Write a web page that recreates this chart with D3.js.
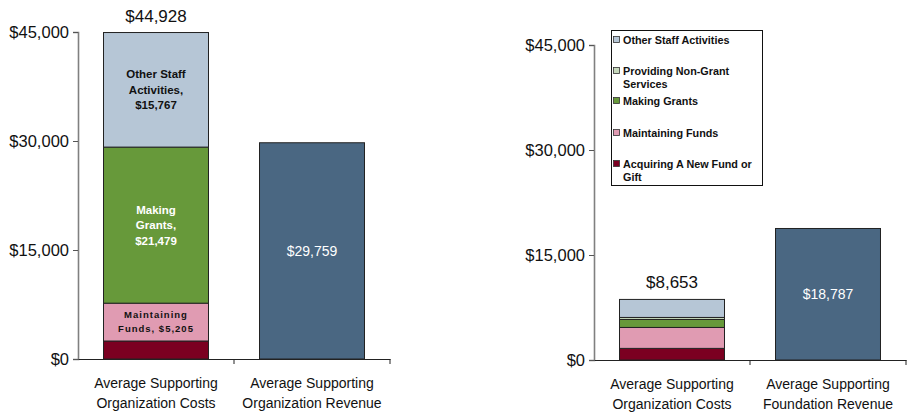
<!DOCTYPE html>
<html>
<head>
<meta charset="utf-8">
<script src="https://cdn.jsdelivr.net/npm/d3@7"></script>
<style>
  body { margin: 0; background: #fff; }
  svg { display: block; font-family: "Liberation Sans", Arial, sans-serif; }
</style>
</head>
<body>
<svg id="chart" width="907" height="413"></svg>
<script>
// Cost components, stacked bottom to top
const components = ["Acquiring A New Fund or Gift", "Maintaining Funds", "Making Grants", "Providing Non-Grant Services", "Other Staff Activities"];
const componentColors = ["#7b0021", "#e09bb2", "#67993a", "#c6d8bb", "#b6c6d6"];

// Left panel: supporting organizations
const leftCategories = ["Average Supporting|Organization Costs", "Average Supporting|Organization Revenue"];
const leftCosts = [2477, 5205, 21479, 0, 15767];
const leftCostTotal = 44928;
const leftRevenue = 29759;

// Right panel: supporting foundations
const rightCategories = ["Average Supporting|Organization Costs", "Average Supporting|Foundation Revenue"];
const rightCosts = [1660, 2990, 1140, 290, 2573];
const rightCostTotal = 8653;
const rightRevenue = 18787;

const yTicks = [0, 15000, 30000, 45000];
const revenueColor = "#4a6782";

const svg = d3.select("#chart");
const fmt = v => "$" + d3.format(",")(v);

function panel(opts) {
  const g = svg.append("g");
  const y = d3.scaleLinear().domain([0, 45000]).range([opts.bottom, opts.top]);
  const x = d3.scaleBand().domain(opts.categories).range([opts.left, opts.right])
    .paddingInner(0.327).paddingOuter(0.1635);

  // y axis
  const yAxis = d3.axisLeft(y).tickValues(yTicks).tickFormat(fmt).tickSizeOuter(0).tickSize(5).tickPadding(4);
  const ya = g.append("g").attr("transform", `translate(${opts.left},0)`).call(yAxis);
  ya.select(".domain").attr("stroke", "#808080").attr("stroke-width", 1.6);
  ya.selectAll(".tick line").attr("stroke", "#555");
  ya.selectAll(".tick text").attr("font-size", 16.5).attr("fill", "#111");

  // stacked cost bar
  const costCat = opts.categories[0];
  let acc = 0;
  const segs = opts.costs.map((v, i) => {
    const s = { i, v, y0: acc, y1: acc + v };
    acc += v;
    return s;
  });
  g.selectAll("rect.seg").data(segs.filter(s => s.v > 0)).join("rect")
    .attr("class", "seg")
    .attr("x", x(costCat))
    .attr("width", x.bandwidth())
    .attr("y", d => y(d.y1))
    .attr("height", d => y(d.y0) - y(d.y1))
    .attr("fill", d => componentColors[d.i])
    .attr("stroke", "#222")
    .attr("stroke-width", 1);

  // revenue bar
  const revCat = opts.categories[1];
  g.append("rect")
    .attr("x", x(revCat)).attr("width", x.bandwidth())
    .attr("y", y(opts.revenue)).attr("height", y(0) - y(opts.revenue))
    .attr("fill", revenueColor).attr("stroke", "#222").attr("stroke-width", 1);
  g.append("text")
    .attr("x", x(revCat) + x.bandwidth() / 2)
    .attr("y", (y(0) + y(opts.revenue)) / 2)
    .attr("dy", "0.35em").attr("text-anchor", "middle")
    .attr("font-size", 14).attr("fill", "#fff")
    .text(fmt(opts.revenue));

  // total above cost bar
  g.append("text")
    .attr("x", x(costCat) + x.bandwidth() / 2)
    .attr("y", y(opts.total) - 11)
    .attr("text-anchor", "middle")
    .attr("font-size", 17).attr("fill", "#111")
    .text(fmt(opts.total));

  // x axis
  const xAxis = d3.axisBottom(x).tickSize(0).tickFormat("");
  const xa = g.append("g").attr("transform", `translate(0,${opts.bottom})`).call(xAxis);
  xa.select(".domain").attr("stroke", "#222").attr("stroke-width", 1);
  // category separators
  const step = x.step();
  [x(costCat) - step * x.paddingInner() / 2 + step, opts.right].forEach(px => {
    g.append("line").attr("x1", px).attr("x2", px)
      .attr("y1", opts.bottom).attr("y2", opts.bottom + 5).attr("stroke", "#222");
  });

  // category labels
  opts.categories.forEach(c => {
    const t = g.append("text")
      .attr("x", x(c) + x.bandwidth() / 2)
      .attr("y", opts.bottom + 29)
      .attr("text-anchor", "middle").attr("font-size", 14).attr("fill", "#111");
    c.split("|").forEach((line, k) => {
      t.append("tspan").attr("x", x(c) + x.bandwidth() / 2).attr("dy", k === 0 ? 0 : 20).text(line);
    });
  });

  return { g, x, y, segs, costCat };
}

// Left panel
const L = panel({ left: 78, right: 390, top: 32, bottom: 359,
  categories: leftCategories, costs: leftCosts, total: leftCostTotal, revenue: leftRevenue });

// Segment annotations inside the left cost bar
const segLabels = [
  { i: 4, lines: ["Other Staff", "Activities,", fmt(leftCosts[4])], color: "#111", size: 11.5, spacing: 0, lh: 15.5 },
  { i: 2, lines: ["Making", "Grants,", fmt(leftCosts[2])], color: "#fff", size: 11.5, spacing: 0, lh: 15.5 },
  { i: 1, lines: ["Maintaining", "Funds, " + fmt(leftCosts[1])], color: "#111", size: 9.5, spacing: 1, lh: 14 }
];
segLabels.forEach(s => {
  const seg = L.segs[s.i];
  const cx = L.x(L.costCat) + L.x.bandwidth() / 2;
  const cy = (L.y(seg.y0) + L.y(seg.y1)) / 2;
  const n = s.lines.length;
  const t = L.g.append("text")
    .attr("text-anchor", "middle").attr("font-size", s.size).attr("font-weight", "bold")
    .attr("fill", s.color).attr("letter-spacing", s.spacing);
  s.lines.forEach((line, k) => {
    t.append("tspan").attr("x", cx)
      .attr("y", cy + (k - (n - 1) / 2) * s.lh)
      .attr("dy", "0.35em").text(line);
  });
});

// Right panel
const R = panel({ left: 594, right: 906, top: 45, bottom: 360,
  categories: rightCategories, costs: rightCosts, total: rightCostTotal, revenue: rightRevenue });

// Legend
const legend = svg.append("g");
legend.append("rect").attr("x", 611.5).attr("y", 30.5).attr("width", 151).attr("height", 155)
  .attr("fill", "#fff").attr("stroke", "#111").attr("stroke-width", 1);
const legendItems = [
  { i: 4, lines: ["Other Staff Activities"], y: 40 },
  { i: 3, lines: ["Providing Non-Grant", "Services"], y: 71 },
  { i: 2, lines: ["Making Grants"], y: 101 },
  { i: 1, lines: ["Maintaining Funds"], y: 133 },
  { i: 0, lines: ["Acquiring A New Fund or", "Gift"], y: 164 }
];
legendItems.forEach(it => {
  legend.append("rect").attr("x", 613.5).attr("y", it.y - 3.5).attr("width", 6).attr("height", 6)
    .attr("fill", componentColors[it.i]).attr("stroke", "#333").attr("stroke-width", 0.8);
  const t = legend.append("text").attr("font-size", 10.8).attr("font-weight", "bold").attr("fill", "#111");
  it.lines.forEach((line, k) => {
    t.append("tspan").attr("x", 623).attr("y", it.y + k * 13.5).attr("dy", "0.35em").text(line);
  });
});
</script>
</body>
</html>
